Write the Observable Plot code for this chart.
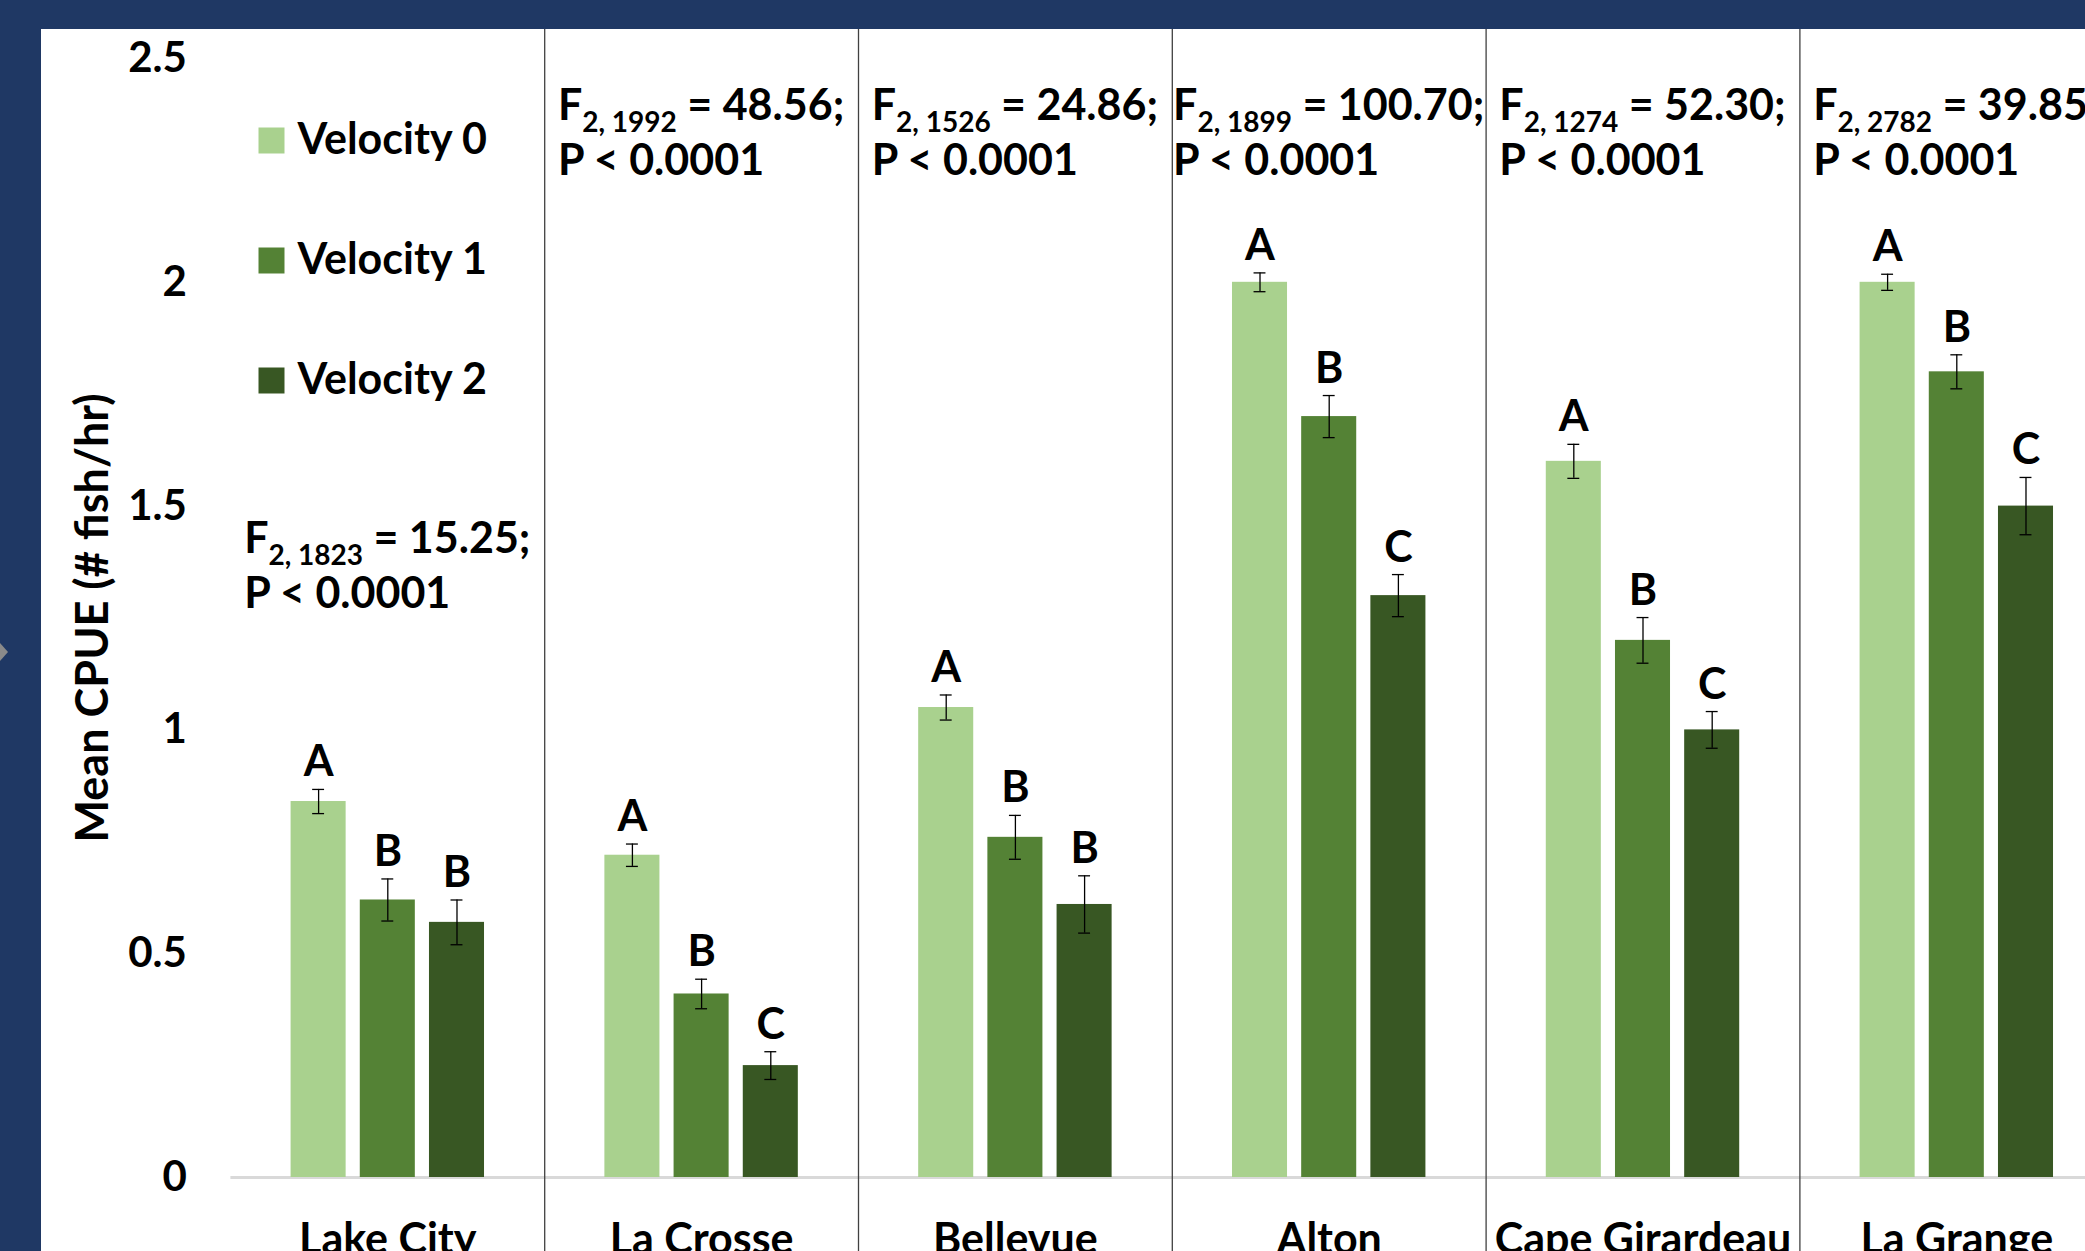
<!DOCTYPE html>
<html>
<head>
<meta charset="utf-8">
<script src="https://cdn.jsdelivr.net/npm/d3@7"></script>
<script src="https://cdn.jsdelivr.net/npm/@observablehq/plot@0.6"></script>
<style>
  html, body { margin: 0; padding: 0; width: 2085px; height: 1251px; overflow: hidden; background: #1f3864; }
  #panel { position: absolute; left: 41px; top: 29px; right: 0; bottom: 0; background: #fff; }
  #nub { position: absolute; left: -1px; top: 642px; width: 0; height: 0;
         border-top: 10px solid transparent; border-bottom: 10px solid transparent; border-left: 9px solid #8a8a8a; }
  #chart { position: absolute; left: 0; top: 0; }
</style>
</head>
<body>
<div id="panel"></div>
<div id="nub"></div>
<div id="chart"></div>
<script>
// Sampling sites, left to right
const sites = ["Lake City", "La Crosse", "Bellevue", "Alton", "Cape Girardeau", "La Grange"];
const velocities = ["Velocity 0", "Velocity 1", "Velocity 2"];

// Mean CPUE (# fish/hr) per site for each velocity class
const meanV0 = [0.84, 0.72, 1.05, 2.00, 1.60, 2.00];
const meanV1 = [0.62, 0.41, 0.76, 1.70, 1.20, 1.80];
const meanV2 = [0.57, 0.25, 0.61, 1.30, 1.00, 1.50];

// Standard errors
const seV0 = [0.027, 0.025, 0.028, 0.021, 0.038, 0.018];
const seV1 = [0.047, 0.033, 0.049, 0.047, 0.051, 0.038];
const seV2 = [0.050, 0.031, 0.064, 0.047, 0.041, 0.064];

// Significance groupings within each site
const groupV0 = ["A", "A", "A", "A", "A", "A"];
const groupV1 = ["B", "B", "B", "B", "B", "B"];
const groupV2 = ["B", "C", "B", "C", "C", "C"];

// ANOVA results per site
const dfError = [1823, 1992, 1526, 1899, 1274, 2782];
const fValues = ["15.25", "48.56", "24.86", "100.70", "52.30", "39.85"];
const pText = "P < 0.0001";

const yTicks = [0, 0.5, 1, 1.5, 2, 2.5];
const yTitle = "Mean CPUE (# fish/hr)";
const colors = ["#a9d18e", "#548235", "#385723"];

const means = [meanV0, meanV1, meanV2];
const ses = [seV0, seV1, seV2];
const groups = [groupV0, groupV1, groupV2];

const rows = sites.flatMap((site, i) =>
  velocities.map((vel, k) => ({
    site: i, k, vel,
    mean: means[k][i], se: ses[k][i], letter: groups[k][i]
  }))
);

// Layout within a site band (site units: one band = 1)
const BAR_STEP = 0.2205;
const BAR_HALF = 0.0877;
const CAP_HALF = 0.019;
const center = d => d.site + (d.k - 1) * BAR_STEP;

const FONT = "Lato, 'Open Sans', sans-serif";
const MAIN = 43, SUB = 28;

const ctx = document.createElement("canvas").getContext("2d");
function textWidth(str, size) {
  ctx.font = `bold ${size}px Lato`;
  return ctx.measureText(str).width;
}

// ANOVA annotation: "F" with subscripted degrees of freedom, P on the line below,
// block centred on its site band, lines left-aligned
function fStatLabels(index, scales) {
  const g = d3.create("svg:g")
    .attr("font-family", FONT)
    .attr("font-weight", "bold")
    .attr("text-anchor", "start")
    .attr("fill", "#000")
    .style("white-space", "pre");
  sites.forEach((s, i) => {
    const sub = `2, ${dfError[i]}`;
    const rest = ` = ${fValues[i]};`;
    const w = textWidth("F", MAIN) + textWidth(sub, SUB) + textWidth(rest, MAIN);
    const left = scales.x(i) - w / 2;
    const base = i === 0 ? scales.y(1.395) : scales.y(2.5) + 62;
    const t = g.append("text").attr("x", left).attr("y", base).attr("font-size", MAIN);
    t.append("tspan").text("F");
    t.append("tspan").attr("font-size", SUB).attr("dy", 12).text(sub);
    t.append("tspan").attr("dy", -12).text(rest);
    g.append("text").attr("x", left).attr("y", base + 55).attr("font-size", MAIN).text(pText);
  });
  return g.node();
}

const legendMarks = velocities.flatMap((v, k) => [
  Plot.dot([v], {
    frameAnchor: "top-left", dx: 40.6, dy: 82 + 120 * k,
    r: 14.67, symbol: "square", fill: d => d
  }),
  Plot.text([v], {
    frameAnchor: "top-left", dx: 66.6, dy: 82 + 120 * k,
    text: d => d, textAnchor: "start", lineAnchor: "middle",
    fontSize: MAIN, fontWeight: "bold", fill: "#000"
  })
]);

const chart = Plot.plot({
  width: 2085,
  height: 1251,
  marginLeft: 230.4,
  marginRight: 0,
  marginTop: 58,
  marginBottom: 74,
  x: {type: "linear", domain: [-0.5, 5.5], range: [230.4, 2113.2]},
  y: {domain: [0, 2.5]},
  color: {domain: velocities, range: colors},
  style: {background: "transparent", fontFamily: FONT, fontWeight: "bold", color: "#000"},
  marks: [
    Plot.ruleY([0], {stroke: "#d9d9d9", strokeWidth: 3}),
    Plot.ruleX(d3.range(1, sites.length).map(i => i - 0.5), {
      stroke: "#404040", strokeWidth: 1.3, insetTop: -29, insetBottom: -80
    }),
    Plot.rect(rows, {
      x1: d => center(d) - BAR_HALF, x2: d => center(d) + BAR_HALF,
      y1: 0, y2: "mean", fill: "vel"
    }),
    Plot.ruleX(rows, {
      x: center, y1: d => d.mean - d.se, y2: d => d.mean + d.se,
      stroke: "#000", strokeWidth: 1.3
    }),
    Plot.ruleY(rows, {
      x1: d => center(d) - CAP_HALF, x2: d => center(d) + CAP_HALF,
      y: d => d.mean + d.se, stroke: "#000", strokeWidth: 1.3
    }),
    Plot.ruleY(rows, {
      x1: d => center(d) - CAP_HALF, x2: d => center(d) + CAP_HALF,
      y: d => d.mean - d.se, stroke: "#000", strokeWidth: 1.3
    }),
    Plot.text(rows, {
      x: center, y: d => d.mean + d.se, text: "letter",
      dy: -13, lineAnchor: "bottom", fontSize: MAIN, fontWeight: "bold", fill: "#000"
    }),
    Plot.axisY({
      ticks: yTicks, tickFormat: d => String(d), tickSize: 0, tickPadding: 44,
      fontSize: 42, fontWeight: "bold", label: null
    }),
    Plot.axisX({
      ticks: d3.range(sites.length), tickFormat: i => sites[i], tickSize: 0, tickPadding: 46,
      fontSize: MAIN, fontWeight: "bold", label: null
    }),
    Plot.text([yTitle], {
      frameAnchor: "left", rotate: -90, dx: -137, text: d => d,
      textAnchor: "middle", lineAnchor: "middle",
      fontSize: 45, fontWeight: "bold", fill: "#000"
    }),
    ...legendMarks,
    fStatLabels
  ]
});

document.getElementById("chart").appendChild(chart);
</script>
</body>
</html>
